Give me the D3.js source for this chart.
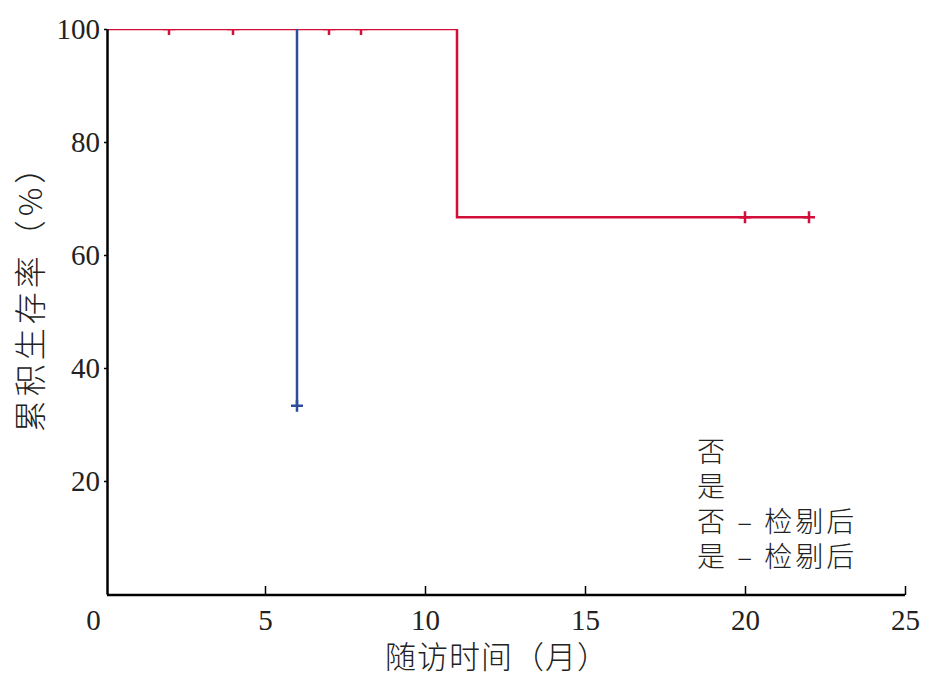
<!DOCTYPE html>
<html>
<head>
<meta charset="utf-8">
<script src="https://cdn.jsdelivr.net/npm/d3@7"></script>
<style>
  body { margin: 0; background: #fff; }
  svg { display: block; }
  .num { font-family: "Liberation Serif", "DejaVu Serif", serif; }
  .cjk { font-family: "Noto Sans CJK SC", sans-serif; font-weight: 300; }
</style>
</head>
<body>
<svg id="chart"></svg>
<script>
    const width = 927;
    const height = 676;

    // survival steps (months, percent)
    const noSteps = [[0, 100], [11, 100], [11, 66.67], [22, 66.67]];
    const yesSteps = [[0, 100], [6, 100], [6, 33.33]];
    // censored points
    const noCensor = [[2, 100], [4, 100], [7, 100], [8, 100], [20, 66.67], [22, 66.67]];
    const yesCensor = [[6, 33.33]];

    const xTicks = [0, 5, 10, 15, 20, 25];
    const yTicks = [20, 40, 60, 80, 100];
    const legendLabels = ["否", "是", "否 – 检剔后", "是 – 检剔后"];

    const red = "#d20f3a";
    const blue = "#2c4c9c";

    const svg = d3.select("#chart")
        .attr("width", width)
        .attr("height", height);

    const x = d3.scaleLinear().domain([0, 25]).range([105, 905]);
    const y = d3.scaleLinear().domain([0, 100]).range([594, 29]);

    // clip region for the plot
    svg.append("clipPath").attr("id", "plot")
      .append("rect")
        .attr("x", 106).attr("y", 29)
        .attr("width", 810).attr("height", 566);

    const line = d3.line().x(d => x(d[0])).y(d => y(d[1]));

    const g = svg.append("g").attr("clip-path", "url(#plot)");

    g.append("path")
        .datum(noSteps)
        .attr("d", line)
        .attr("fill", "none")
        .attr("stroke", red)
        .attr("stroke-width", 2.5);

    g.append("path")
        .datum(yesSteps.slice(1))
        .attr("d", line)
        .attr("fill", "none")
        .attr("stroke", blue)
        .attr("stroke-width", 2.5);

    function censor(pts, col) {
        g.append("g").selectAll("path")
          .data(pts)
          .join("path")
            .attr("d", d => {
                const cx = x(d[0]), cy = y(d[1]);
                return `M${cx - 6},${cy}H${cx + 6}M${cx},${cy - 6}V${cy + 6}`;
            })
            .attr("stroke", col)
            .attr("stroke-width", 2.5);
    }
    censor(noCensor, red);
    censor(yesCensor, blue);

    // axes
    const xAxis = svg.append("g")
        .attr("transform", `translate(0,${y(0) + 1})`)
        .call(d3.axisBottom(x).tickValues(xTicks).tickSizeInner(-9).tickSizeOuter(0).tickPadding(14));
    xAxis.select(".domain").attr("d", `M${x(0) + 2},0H${x(25)}`).attr("stroke-width", 2.5);
    xAxis.selectAll(".tick line").attr("stroke-width", 1.5).filter(d => d === 0).remove();
    xAxis.selectAll(".tick text")
        .attr("class", "num")
        .attr("font-size", 29)
        .attr("fill", "#222")
        .attr("dy", "0.71em")
        .attr("x", d => d === 0 ? -12 : 0);

    const yAxis = svg.append("g")
        .attr("transform", `translate(${x(0) + 2},0)`)
        .call(d3.axisLeft(y).tickValues(yTicks).tickSizeInner(3).tickSizeOuter(0).tickPadding(4));
    yAxis.select(".domain").attr("stroke-width", 2.5);
    yAxis.selectAll(".tick line").attr("stroke-width", 1.5);
    yAxis.selectAll(".tick text")
        .attr("class", "num")
        .attr("font-size", 29)
        .attr("fill", "#222");

    // axis titles
    svg.append("text")
        .attr("class", "cjk")
        .attr("x", 497).attr("y", 668)
        .attr("text-anchor", "middle")
        .attr("font-size", 31)
        .attr("letter-spacing", 1)
        .attr("fill", "#222")
        .text("随访时间（月）");

    svg.append("text")
        .attr("class", "cjk")
        .attr("transform", "translate(42,290) rotate(-90)")
        .attr("text-anchor", "middle")
        .attr("font-size", 32)
        .attr("letter-spacing", 4)
        .attr("fill", "#222")
        .text("累积生存率（%）");

    // legend (text only)
    svg.append("g").selectAll("text")
      .data(legendLabels)
      .join("text")
        .attr("class", "cjk")
        .attr("x", 697)
        .attr("y", (d, i) => 462 + i * 35)
        .attr("font-size", 28)
        .attr("letter-spacing", 3)
        .attr("fill", "#222")
        .attr("xml:space", "preserve")
        .text(d => d);
</script>
</body>
</html>
